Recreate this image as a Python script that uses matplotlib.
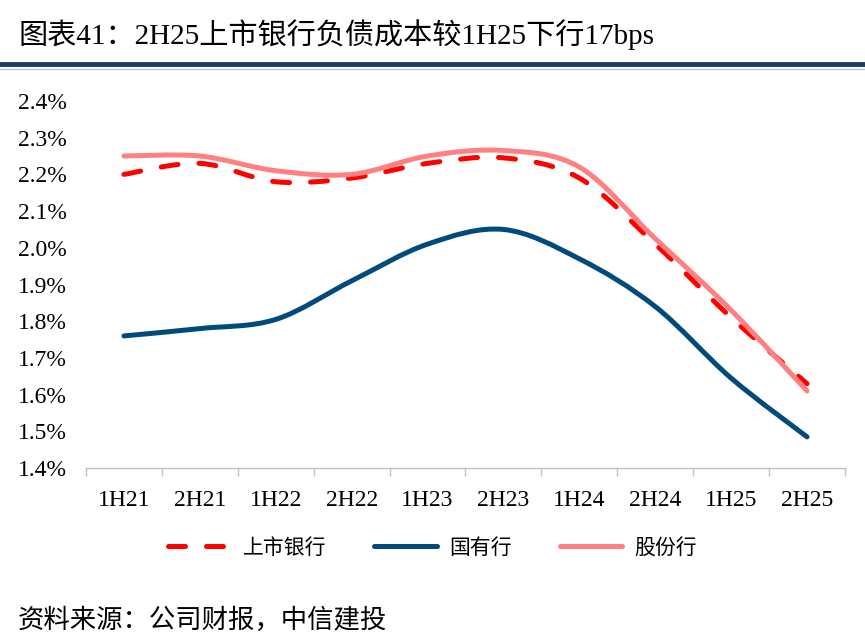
import numpy as np
import matplotlib.pyplot as plt
from matplotlib.path import Path
from matplotlib.patches import PathPatch
from matplotlib.lines import Line2D

plt.rcParams['font.family'] = ['Liberation Serif', 'Noto Sans CJK SC']

# data (%)
periods = ['1H21', '2H21', '1H22', '2H22', '1H23', '2H23', '1H24', '2H24', '1H25', '2H25']
listed = [2.20, 2.23, 2.18, 2.19, 2.23, 2.245, 2.19, 2.01, 1.81, 1.63]
state_owned = [1.76, 1.78, 1.805, 1.91, 2.01, 2.05, 1.97, 1.84, 1.645, 1.485]
joint_stock = [2.25, 2.25, 2.21, 2.20, 2.25, 2.265, 2.22, 2.025, 1.83, 1.61]

names = ['上市银行', '国有行', '股份行']
colors = ['#FF0000', '#004B7C', '#FF8080']
styles = [(0, (3.4, 4.2)), '-', '-']


def smooth_path(x, y):
    # excel style smoothed line, bezier segments through the points
    pts = np.column_stack([x, y]).astype(float)
    n = len(pts)
    verts = [pts[0]]
    codes = [Path.MOVETO]
    for i in range(n - 1):
        p0 = pts[i - 1] if i > 0 else pts[i]
        p1 = pts[i]
        p2 = pts[i + 1]
        p3 = pts[i + 2] if i + 2 < n else pts[i + 1]
        c1 = p1 + (p2 - p0) / 6.0
        c2 = p2 - (p3 - p1) / 6.0
        verts += [c1, c2, p2]
        codes += [Path.CURVE4] * 3
    return Path(verts, codes)


fig = plt.figure(figsize=(8.65, 6.43), dpi=100)
ax = fig.add_axes([0.0994, 0.272, 0.8775, 0.571])

x = np.arange(len(periods))
series = [listed, state_owned, joint_stock]
for s, c, ls in zip(series, colors, styles):
    patch = PathPatch(smooth_path(x, s), fill=False, edgecolor=c, lw=3.6,
                      linestyle=ls, capstyle='round', joinstyle='round')
    ax.add_patch(patch)

ax.set_xlim(-0.5, len(periods) - 0.5)
ax.set_ylim(1.4, 2.4)
ax.set_yticks(np.arange(1.4, 2.41, 0.1))
ax.set_yticklabels(['%.1f%%' % v for v in np.arange(1.4, 2.41, 0.1)], fontsize=17)
ax.set_xticks(x)
ax.set_xticklabels(periods, fontsize=17)
ax.set_xticks(np.arange(-0.5, len(periods), 1), minor=True)
ax.tick_params(axis='x', which='major', length=0, pad=16)
ax.tick_params(axis='x', which='minor', length=6, color='#BFBFBF', width=1)
ax.tick_params(axis='y', length=0, pad=14)
for sp in ['top', 'right', 'left']:
    ax.spines[sp].set_visible(False)
ax.spines['bottom'].set_color('#BFBFBF')
ax.spines['bottom'].set_linewidth(1)

handles = [Line2D([0], [0], color=c, lw=3.6, linestyle=ls, solid_capstyle='round',
                  dash_capstyle='round') for c, ls in zip(colors, styles)]
fig.legend(handles, names, loc='center', bbox_to_anchor=(0.5, 0.147), ncol=3,
           frameon=False, fontsize=15, handlelength=3, columnspacing=2.3,
           handletextpad=0.6)

fig.text(0.021, 0.946, '图表41：2H25上市银行负债成本较1H25下行17bps', fontsize=21,
         va='center', ha='left')
fig.add_artist(Line2D([0, 1], [0.901, 0.901], color='#1F3864', lw=3.5))
fig.add_artist(Line2D([0, 1], [0.893, 0.893], color='#B4C7E7', lw=1))
fig.text(0.021, 0.035, '资料来源：公司财报，中信建投', fontsize=19, va='center',
         ha='left', style='italic')

plt.savefig('out.png', dpi=100)
